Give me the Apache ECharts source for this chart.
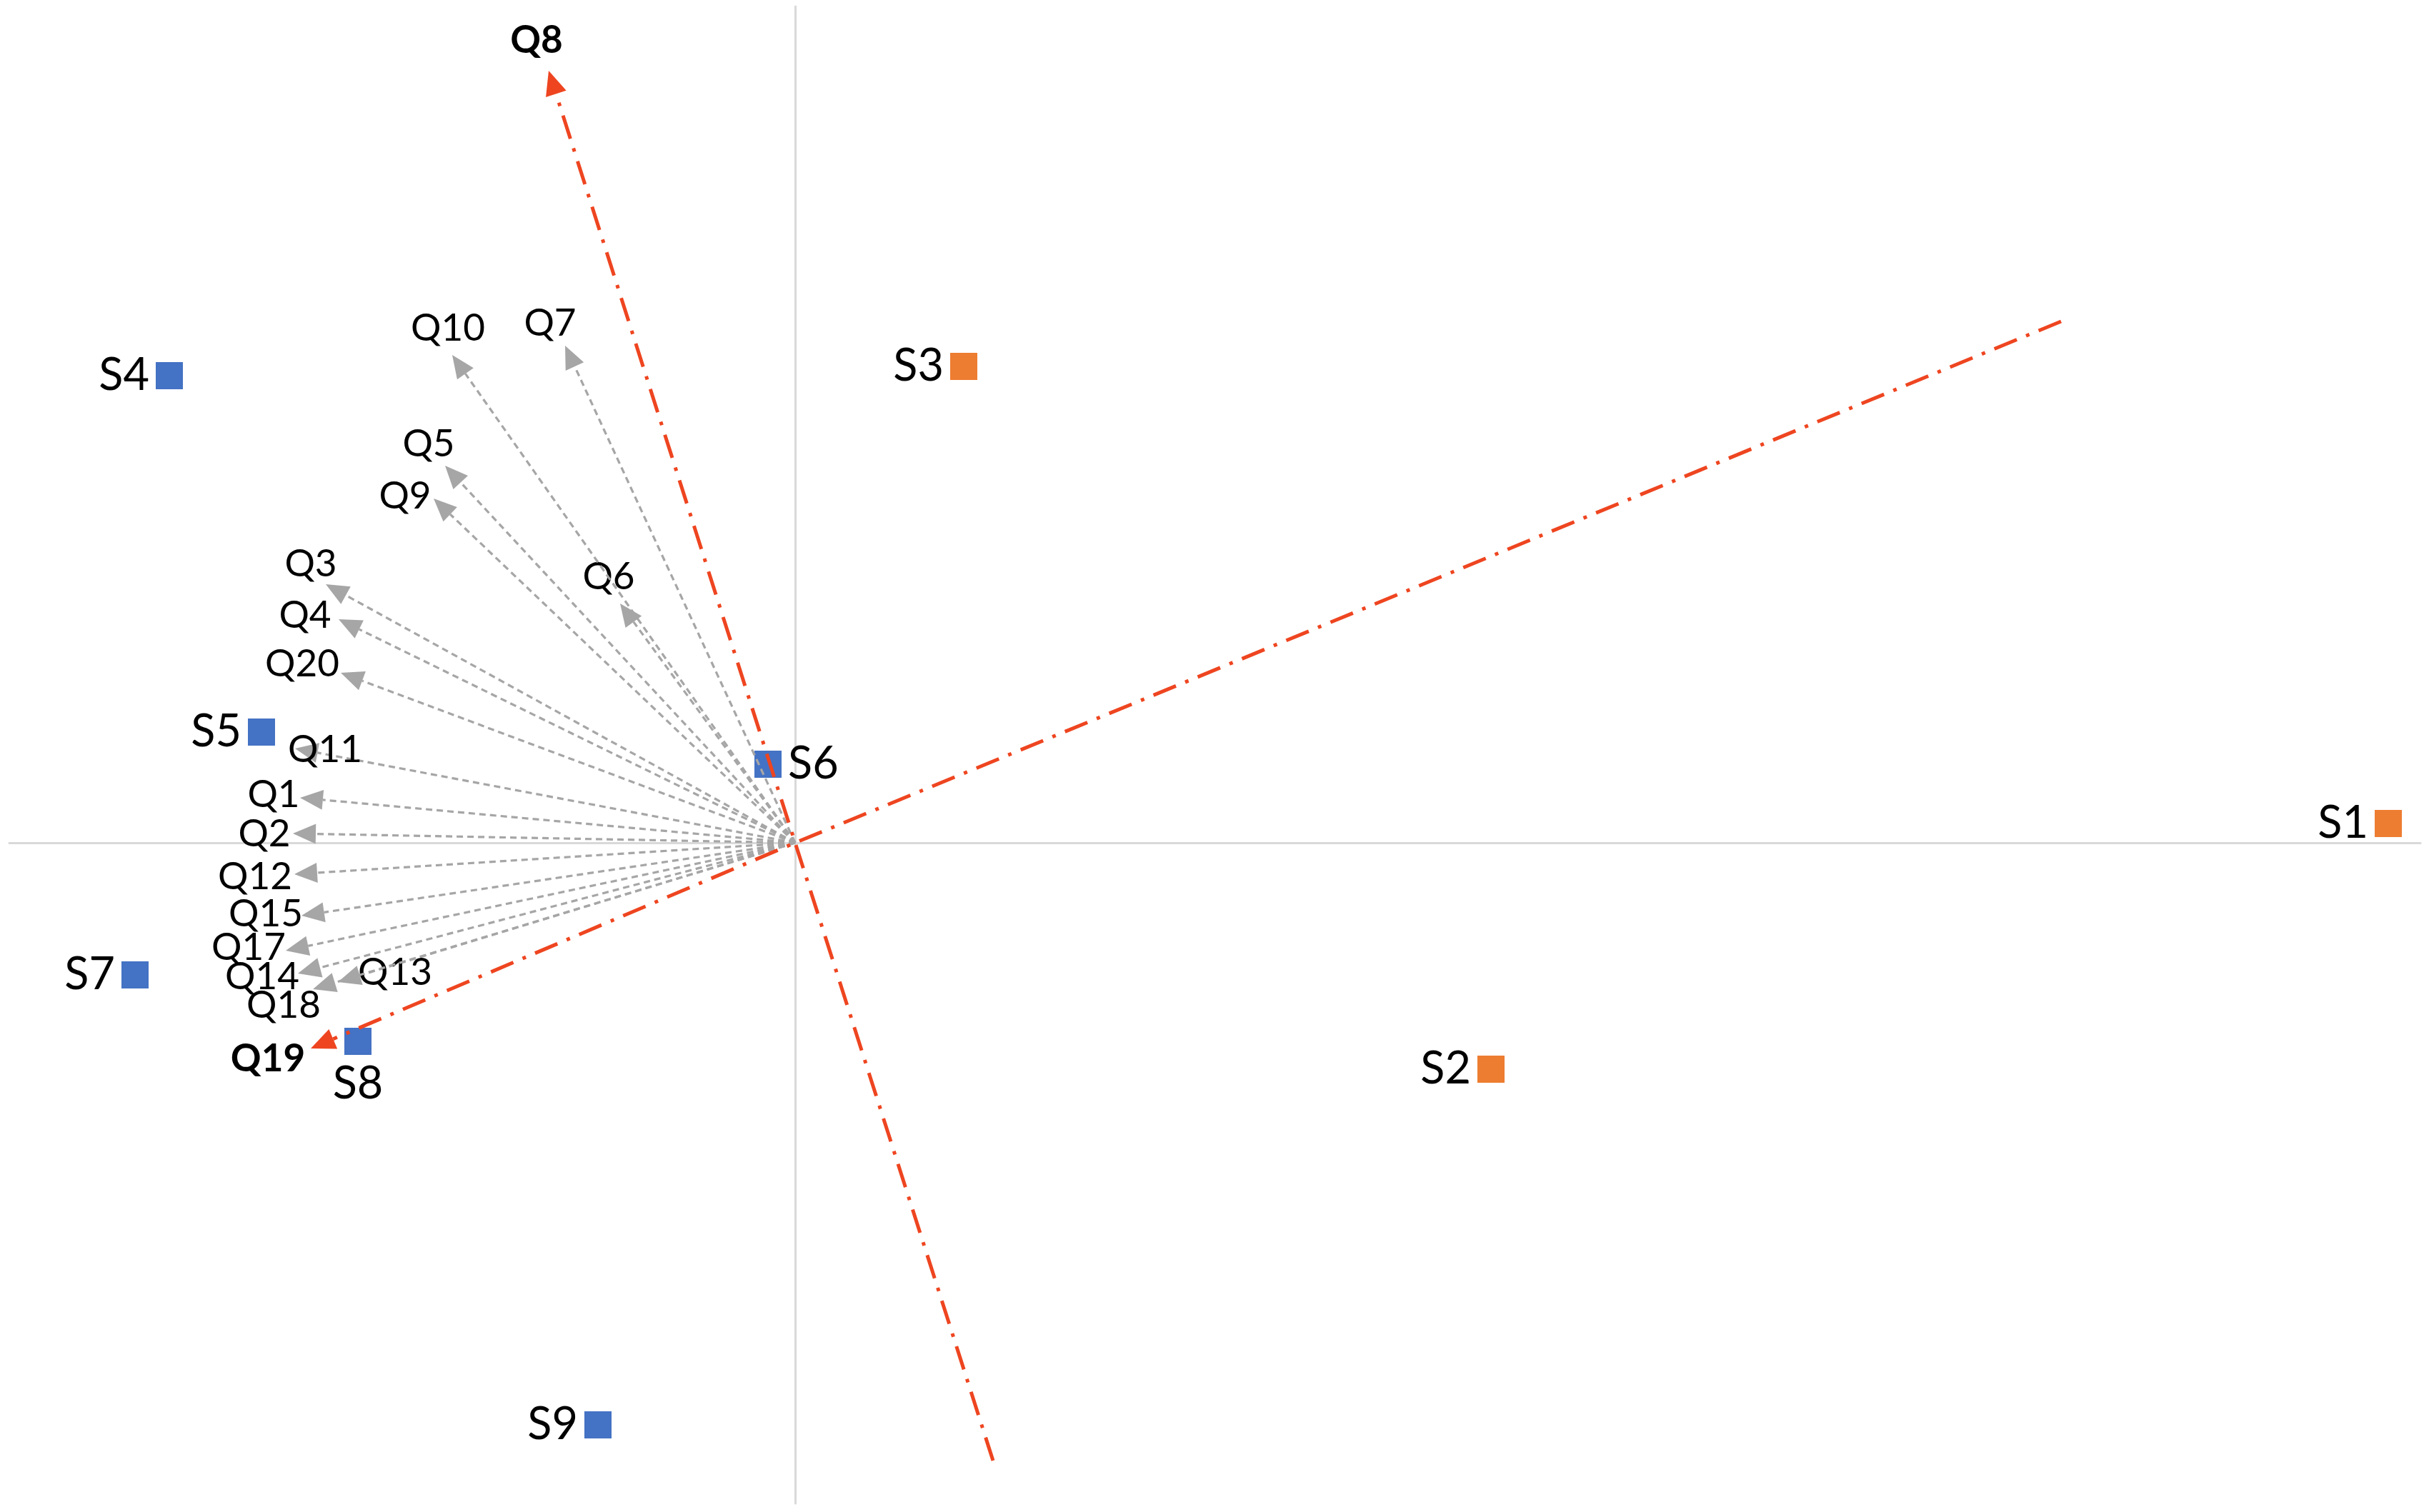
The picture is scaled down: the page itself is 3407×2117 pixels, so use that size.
<!DOCTYPE html>
<html>
<head>
<meta charset="utf-8">
<script src="https://cdn.jsdelivr.net/npm/echarts@6/dist/echarts.min.js"></script>
<style>
html,body{margin:0;padding:0;background:#fff;}
#chart{width:3407px;height:2117px;}
</style>
</head>
<body>
<div id="chart"></div>
<script>
// ---- data (biplot coordinates) ----
const qNames = ['Q1','Q2','Q3','Q4','Q5','Q6','Q7','Q8','Q9','Q10','Q11','Q12','Q13','Q14','Q15','Q17','Q18','Q19','Q20'];
const qX = [-1.386,-1.406,-1.314,-1.278,-0.980,-0.490,-0.644,-0.690,-1.012,-0.960,-1.400,-1.402,-1.280,-1.392,-1.382,-1.426,-1.350,-1.356,-1.272];
const qY = [ 0.126, 0.026, 0.724, 0.626, 1.056, 0.670, 1.392, 2.162, 0.964, 1.366, 0.264,-0.088,-0.390,-0.366,-0.204,-0.302,-0.410,-0.576, 0.476];

// highlighted questions (red dash-dot axes) and the far end of their axis lines
const redQ = ['Q8','Q19'];
const redExtX = [0.554, 3.544];
const redExtY = [-1.730, 1.460];

// sites
const groupANames = ['S1','S2','S3'];
const groupAX = [4.460, 1.948, 0.472];
const groupAY = [0.054,-0.634, 1.334];
const groupBNames = ['S4','S5','S6','S7','S8','S9'];
const groupBX = [-1.752,-1.494,-0.076,-1.848,-1.224,-0.552];
const groupBY = [ 1.308, 0.310, 0.220,-0.370,-0.556,-1.630];

// ---- presentation ----
const FONT = 'Lato, "Open Sans", sans-serif';
const labelOffset = {
  Q1:[-37,-4], Q2:[-40,1], Q3:[-21,-28], Q4:[-47,-5], Q5:[-23,-30], Q6:[-16,-37],
  Q7:[-21,-31], Q8:[-17,-42], Q9:[-40,-3], Q10:[-6,-37], Q11:[42,2], Q12:[-55,4],
  Q13:[80,-13], Q14:[-50,5], Q15:[-50,-2], Q17:[-52,-4], Q18:[-41,23], Q19:[-60,15], Q20:[-54,-12]
};
const siteLabelPos = {S6:'right', S8:'bottom'};
const GRAY = '#A6A6A6', RED = '#EE4520';

function arrowHead(tip, from, len, wid) {
  const dx = tip[0]-from[0], dy = tip[1]-from[1];
  const d = Math.sqrt(dx*dx+dy*dy) || 1;
  const ux = dx/d, uy = dy/d;
  const base = [tip[0]-ux*len, tip[1]-uy*len];
  const px = -uy*wid/2, py = ux*wid/2;
  return {base, pts:[tip,[base[0]+px,base[1]+py],[base[0]-px,base[1]-py]]};
}

const grayData = [], redData = [];
qNames.forEach((n,i)=>{
  const k = redQ.indexOf(n);
  if (k < 0) grayData.push({value:[qX[i],qY[i]], name:n});
  else redData.push({value:[qX[i],qY[i],redExtX[k],redExtY[k]], name:n});
});

function siteData(names, xs, ys) {
  return names.map((n,i)=>{
    const o = {name:n, value:[xs[i],ys[i]]};
    if (siteLabelPos[n]) o.label = {position: siteLabelPos[n]};
    return o;
  });
}

const siteLabel = {show:true,position:'left',distance:9,formatter:'{b}',fontSize:63,fontFamily:FONT,color:'#000'};

const chart = echarts.init(document.getElementById('chart'));
chart.setOption({
  animation:false,
  backgroundColor:'#fff',
  grid:{left:13,right:19,top:9,bottom:12},
  xAxis:{type:'value',min:-2.2,max:4.55,splitLine:{show:false},axisTick:{show:false},axisLabel:{show:false},
    axisLine:{show:true,onZero:true,lineStyle:{color:'#D9D9D9',width:3}}},
  yAxis:{type:'value',min:-1.85,max:2.342,splitLine:{show:false},axisTick:{show:false},axisLabel:{show:false},
    axisLine:{show:true,onZero:true,lineStyle:{color:'#D9D9D9',width:3}}},
  series:[
    {type:'scatter',name:'groupA',symbol:'rect',symbolSize:38,itemStyle:{color:'#ED7D31',opacity:1},z:2,
     label:siteLabel, data:siteData(groupANames,groupAX,groupAY)},
    {type:'scatter',name:'groupB',symbol:'rect',symbolSize:38,itemStyle:{color:'#4472C4',opacity:1},z:2,
     label:siteLabel, data:siteData(groupBNames,groupBX,groupBY)},
    {type:'custom',name:'questions',z:3,clip:false,
     renderItem:function(params, api){
       const o = api.coord([0,0]);
       const t = api.coord([api.value(0),api.value(1)]);
       const name = grayData[params.dataIndex].name;
       const ah = arrowHead(t,o,32,28);
       const off = labelOffset[name];
       return {type:'group',children:[
         {type:'line',shape:{x1:o[0],y1:o[1],x2:ah.base[0],y2:ah.base[1]},
          style:{stroke:GRAY,lineWidth:3.2,lineDash:[9,6]}},
         {type:'polygon',shape:{points:ah.pts},style:{fill:GRAY}},
         {type:'text',x:t[0]+off[0],y:t[1]+off[1],
          style:{text:name,fill:'#000',fontSize:53,fontFamily:FONT,align:'center',verticalAlign:'middle'}}
       ]};
     },
     data:grayData},
    {type:'custom',name:'axesQ',z:4,clip:false,
     renderItem:function(params, api){
       const o = api.coord([0,0]);
       const t = api.coord([api.value(0),api.value(1)]);
       const e = api.coord([api.value(2),api.value(3)]);
       const name = redData[params.dataIndex].name;
       const ah = arrowHead(t,o,34,30);
       const off = labelOffset[name];
       return {type:'group',children:[
         {type:'polyline',shape:{points:[e,o,ah.base]},
          style:{stroke:RED,lineWidth:5,fill:null,lineDash:[34,14,5,14]}},
         {type:'polygon',shape:{points:ah.pts},style:{fill:RED}},
         {type:'text',x:t[0]+off[0],y:t[1]+off[1],
          style:{text:name,fill:'#000',fontSize:53,fontWeight:'bold',fontFamily:FONT,align:'center',verticalAlign:'middle'}}
       ]};
     },
     data:redData}
  ]
});
</script>
</body>
</html>
